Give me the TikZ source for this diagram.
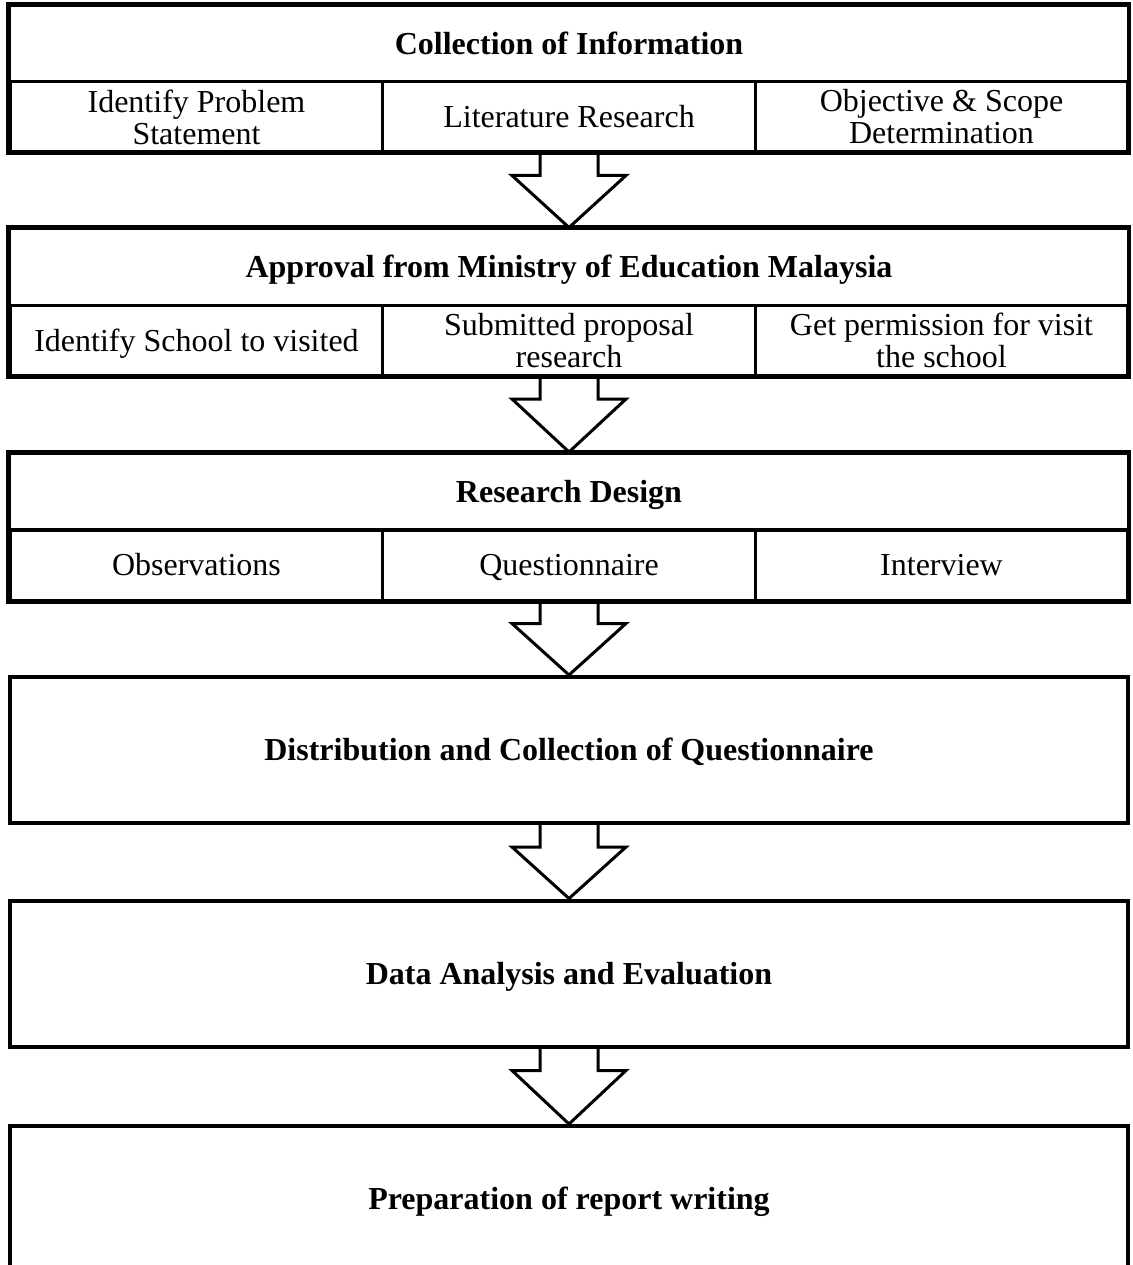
\documentclass[tikz,border=0pt]{standalone}
\usepackage{fontspec}
\setmainfont{Liberation Serif}
\usetikzlibrary{calc}
\newcommand\flowarrow[2]{%
  \draw[blockarr] ($(#1.south)+(-29,0)$) -- ++(0,22) -- ++(-28,0) -- (#2.north)
    -- ($(#1.south)+(57,22)$) -- ++(-28,0) -- ++(0,-22);}
\begin{document}
\begin{tikzpicture}[x=0.4pt,y=-0.4pt,
  frame/.style={draw, line width=1.2pt, inner sep=0pt, align=center, font=\fontsize{12.8}{12.8}\selectfont},
  one/.style={text height=2.15ex, text depth=0.3ex},
  head/.style={frame, one, minimum width=447.2pt, minimum height=30.4pt, font=\fontsize{12.8}{12.8}\selectfont\bfseries},
  cell/.style={frame, minimum width=149pt, minimum height=28pt},
  big/.style={frame, one, line width=1.6pt, minimum width=447.2pt, minimum height=58.4pt, font=\fontsize{12.8}{14}\selectfont\bfseries},
  outer/.style={line width=1.6pt},
  blockarr/.style={draw, line width=1.2pt, line join=miter}
]
\clip (0,0) rectangle (1132,1265);

% Block 1
\node[head] (h1) at (569,44) {Collection of Information};
\node[cell] (c11) at (196.5,117) {Identify Problem\\Statement};
\node[cell, one] (c12) at (569,117) {Literature Research};
\node[cell] (c13) at (941.5,117) {Objective \& Scope\\Determination};
\draw[outer] (h1.north west) rectangle (c13.south east);

% Block 2
\node[head] (h2) at (569,267) {Approval from Ministry of Education Malaysia};
\node[cell, one] (c21) at (196.5,340.5) {Identify School to visited};
\node[cell] (c22) at (569,340.5) {Submitted proposal\\research};
\node[cell] (c23) at (941.5,340.5) {Get permission for visit\\the school};
\draw[outer] (h2.north west) rectangle (c23.south east);

% Block 3
\node[head] (h3) at (569,491.5) {Research Design};
\node[cell, one] (c31) at (196.5,565) {Observations};
\node[cell, one] (c32) at (569,565) {Questionnaire};
\node[cell, one] (c33) at (941.5,565) {Interview};
\draw[outer] (h3.north west) rectangle (c33.south east);

% Big blocks
\node[big] (b4) at (569,750) {Distribution and Collection of Questionnaire};
\node[big] (b5) at (569,973.5) {Data Analysis and Evaluation};
\node[big] (b6) at (569,1199) {Preparation of report writing};

% Block arrows
\flowarrow{c12}{h2}
\flowarrow{c22}{h3}
\flowarrow{c32}{b4}
\flowarrow{b4}{b5}
\flowarrow{b5}{b6}
\end{tikzpicture}
\end{document}
